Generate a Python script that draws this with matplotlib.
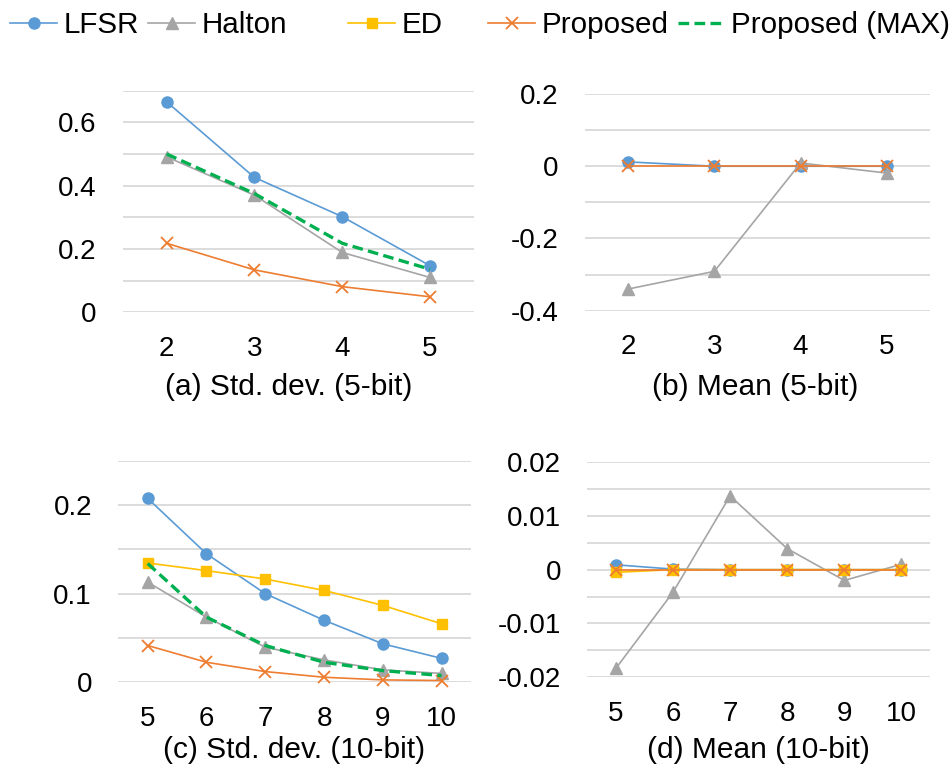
import matplotlib
matplotlib.use("Agg")
import matplotlib.pyplot as plt
from matplotlib.ticker import MultipleLocator, FuncFormatter
from matplotlib.lines import Line2D

plt.rcParams['font.family'] = ['Liberation Sans', 'DejaVu Sans']
plt.rcParams['axes.unicode_minus'] = False

# ---- data ----
bits_5 = ['2', '3', '4', '5']
bits_10 = ['5', '6', '7', '8', '9', '10']

# (a) Std. dev. (5-bit)
std5_lfsr = [0.665, 0.426, 0.302, 0.147]
std5_halton = [0.491, 0.370, 0.189, 0.110]
std5_proposed = [0.218, 0.134, 0.081, 0.049]
std5_max = [0.500, 0.375, 0.218, 0.136]

# (b) Mean (5-bit)
mean5_lfsr = [0.012, 0.0, 0.0, 0.0]
mean5_halton = [-0.340, -0.291, 0.009, -0.019]
mean5_proposed = [0.0, 0.0, 0.0, 0.0]

# (c) Std. dev. (10-bit)
std10_lfsr = [0.2075, 0.145, 0.100, 0.070, 0.0434, 0.027]
std10_halton = [0.113, 0.0735, 0.0396, 0.0253, 0.014, 0.010]
std10_ed = [0.1346, 0.126, 0.1165, 0.1037, 0.0868, 0.066]
std10_proposed = [0.0415, 0.0226, 0.0121, 0.0057, 0.0027, 0.002]
std10_max = [0.134, 0.0735, 0.0415, 0.0226, 0.0132, 0.0076]

# (d) Mean (10-bit)
mean10_lfsr = [0.0009, 0.0001, 0.0, 0.0, 0.0, 0.0]
mean10_halton = [-0.01835, -0.0042, 0.0137, 0.0039, -0.002, 0.001]
mean10_ed = [-0.0005, 0.0, 0.0, 0.0, 0.0, 0.0]
mean10_proposed = [0.0, 0.0, 0.0, 0.0, 0.0, 0.0]

captions = ['(a) Std. dev. (5-bit)', '(b) Mean (5-bit)',
            '(c) Std. dev. (10-bit)', '(d) Mean (10-bit)']

# ---- styles ----
C_LFSR = '#5B9BD5'
C_HALTON = '#A5A5A5'
C_ED = '#FFC000'
C_PROP = '#ED7D31'
C_MAX = '#00B050'
GRID = '#D9D9D9'
FS = 20
FS_CAP = 21.5
FS_LEG = 21.3

sty = {
    'LFSR': dict(color=C_LFSR, marker='o', markersize=8, lw=1.2),
    'Halton': dict(color=C_HALTON, marker='^', markersize=8, lw=1.2),
    'ED': dict(color=C_ED, marker='s', markersize=7.5, lw=1.2),
    'Proposed': dict(color=C_PROP, marker='x', markersize=8.5, mew=1.3, lw=1.2),
    'Proposed (MAX)': dict(color=C_MAX, lw=2.4, ls=(0, (3.2, 1.6))),
}

W, H = 953, 771
fig = plt.figure(figsize=(W / 100, H / 100), dpi=100)


def add_ax(l, t, r, b):
    return fig.add_axes([l / W, 1 - b / H, (r - l) / W, (b - t) / H])


def fmt(v, pos):
    s = ('%.3f' % v).rstrip('0').rstrip('.')
    if s in ('-0', ''):
        s = '0'
    return s


def setup(ax, cats, ymin, ymax, major, minor):
    ax.set_xlim(-0.5, len(cats) - 0.5)
    ax.set_ylim(ymin, ymax)
    ax.set_xticks(range(len(cats)))
    ax.set_xticklabels(cats)
    ax.yaxis.set_major_locator(MultipleLocator(major))
    ax.yaxis.set_minor_locator(MultipleLocator(minor))
    ax.yaxis.set_major_formatter(FuncFormatter(fmt))
    for s in ax.spines.values():
        s.set_visible(False)
    ax.grid(True, axis='y', which='both', color=GRID, lw=1.3)
    ax.set_axisbelow(True)
    ax.tick_params(axis='both', which='both', length=0, labelsize=FS, colors='black')
    ax.tick_params(axis='x', pad=17)
    ax.tick_params(axis='y', pad=19)


def plot(ax, n, series):
    x = list(range(n))
    for name, vals in series:
        ax.plot(x, vals, clip_on=False, **sty[name])


axa = add_ax(122.7, 90.7, 474, 312.3)
setup(axa, bits_5, 0, 0.7, 0.2, 0.1)
plot(axa, 4, [('LFSR', std5_lfsr), ('Halton', std5_halton),
              ('Proposed', std5_proposed), ('Proposed (MAX)', std5_max)])

axb = add_ax(585, 94, 930, 310.7)
setup(axb, bits_5, -0.4, 0.2, 0.2, 0.1)
plot(axb, 4, [('LFSR', mean5_lfsr), ('Halton', mean5_halton),
              ('Proposed', mean5_proposed)])

axc = add_ax(118.3, 460.7, 471, 682.3)
setup(axc, bits_10, 0, 0.25, 0.1, 0.05)
plot(axc, 6, [('LFSR', std10_lfsr), ('Halton', std10_halton), ('ED', std10_ed),
              ('Proposed', std10_proposed), ('Proposed (MAX)', std10_max)])

axd = add_ax(587.3, 462, 930, 677.3)
setup(axd, bits_10, -0.02, 0.02, 0.01, 0.005)
plot(axd, 6, [('LFSR', mean10_lfsr), ('Halton', mean10_halton), ('ED', mean10_ed),
              ('Proposed', mean10_proposed)])

# captions
for (cx, cy), txt in zip([(289, 387), (755, 387), (294, 750), (758, 750)], captions):
    fig.text(cx / W, 1 - cy / H, txt, ha='center', va='center', fontsize=FS_CAP)

# legend: individual entries placed along the top
leg_x = [10, 148, 348, 488, 678]
for name, lx in zip(['LFSR', 'Halton', 'ED', 'Proposed', 'Proposed (MAX)'], leg_x):
    h = Line2D([], [], **sty[name])
    fig.legend(handles=[h], labels=[name], loc='center left',
               bbox_to_anchor=(lx / W, 1 - 25 / H), frameon=False,
               fontsize=FS_LEG, handlelength=1.6, handletextpad=0.2,
               borderpad=0, borderaxespad=0)

fig.savefig('out.png', dpi=100)
